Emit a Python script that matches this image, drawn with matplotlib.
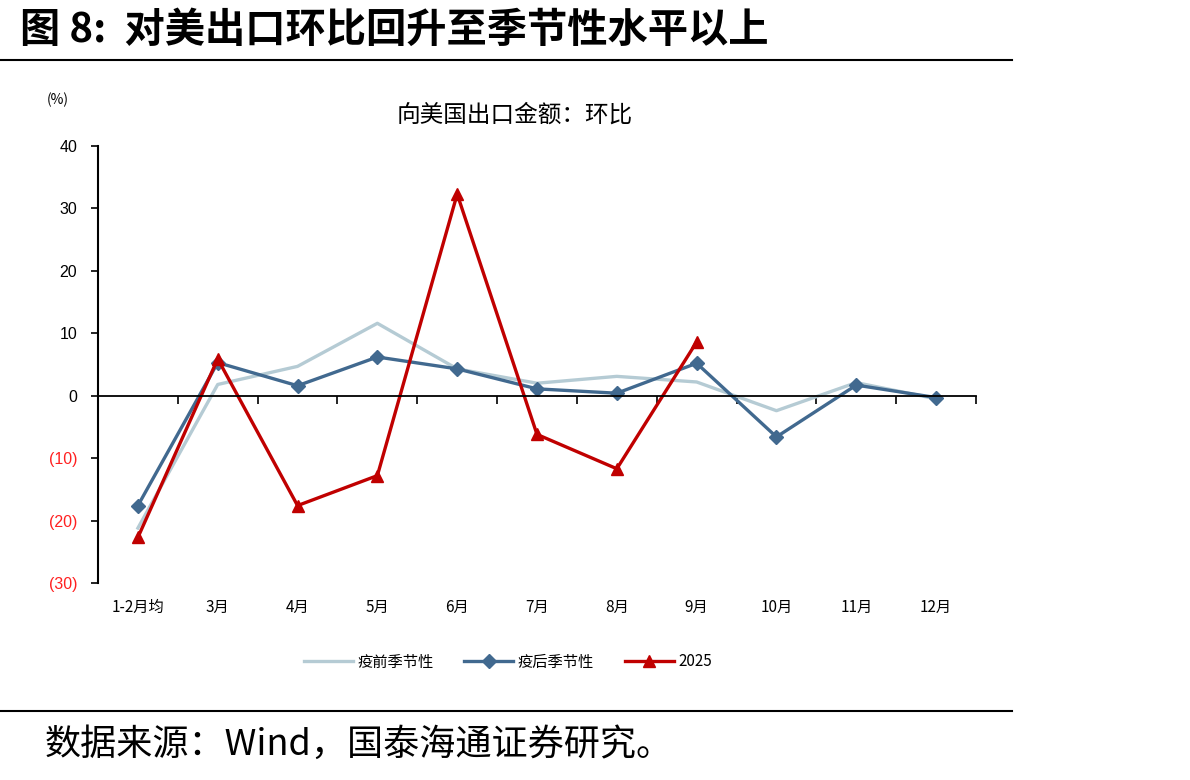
import numpy as np
import matplotlib
matplotlib.use("Agg")
import matplotlib.pyplot as plt
import matplotlib.transforms as mtrans

plt.rcParams['font.family'] = ['Noto Sans CJK SC', 'DejaVu Sans']

# Data
months = ['1-2月均', '3月', '4月', '5月', '6月', '7月', '8月', '9月', '10月', '11月', '12月']
pre_covid = [-21.2, 1.8, 4.7, 11.6, 4.3, 2.0, 3.1, 2.2, -2.4, 2.1, -0.5]
post_covid = [-17.6, 5.3, 1.6, 6.2, 4.3, 1.1, 0.4, 5.2, -6.6, 1.7, -0.3]
y2025 = [-22.7, 5.9, -17.6, -12.8, 32.3, -6.2, -11.7, 8.6]
yticks = [40, 30, 20, 10, 0, -10, -20, -30]

LIGHT = '#B5CBD4'
BLUE = '#41698F'
RED = '#C00000'

fig = plt.figure(figsize=(11.9, 7.8), dpi=100)
ax = fig.add_axes([98 / 1190, 1 - 583 / 780, 878 / 1190, 437 / 780])

x = np.arange(len(months))
ax.plot(x, pre_covid, color=LIGHT, lw=2.4, label='疫前季节性')
ax.plot(x, post_covid, color=BLUE, lw=2.4, marker='D', ms=7, label='疫后季节性')
ax.plot(x[:len(y2025)], y2025, color=RED, lw=2.4, marker='^', ms=8, label='2025')

ax.set_xlim(-0.5, len(months) - 0.5)
ax.set_ylim(-30, 40)

# y axis: negatives in red, in parentheses
ax.set_yticks(yticks)
ax.set_yticklabels([str(v) if v >= 0 else '({})'.format(-v) for v in yticks], fontsize=11.5,
                   family=['Liberation Sans', 'DejaVu Sans'])
for lab, v in zip(ax.get_yticklabels(), yticks):
    if v < 0:
        lab.set_color('#FF2020')
ax.tick_params(axis='y', direction='out', length=5, width=1.2, pad=10)

# x axis at zero with ticks between categories
for s in ['top', 'right']:
    ax.spines[s].set_visible(False)
ax.spines['left'].set_linewidth(1.5)
ax.spines['bottom'].set_position(('data', 0))
ax.spines['bottom'].set_linewidth(1.3)
ax.set_xticks(np.arange(len(months) + 1) - 0.5)
ax.set_xticklabels([])
ax.tick_params(axis='x', direction='out', length=6, width=1.2)

trans = mtrans.blended_transform_factory(ax.transData, ax.transAxes)
for i, m in enumerate(months):
    ax.text(i, -0.055, m, transform=trans, ha='center', va='center', fontsize=11)

fig.text(58 / 1190, 1 - 100 / 780, '(%)', fontsize=10, ha='center', va='center')
fig.text(515 / 1190, 1 - 115 / 780, '向美国出口金额：环比', fontsize=17, ha='center', va='center')

fig.legend(loc='center', bbox_to_anchor=(508 / 1190, 1 - 662 / 780), ncol=3, frameon=False,
           fontsize=11, handlelength=3.2, columnspacing=2.0, handletextpad=0.3)

# header / footer
fig.text(20 / 1190, 1 - 30 / 780, '图 8:  对美出口环比回升至季节性水平以上', fontsize=29,
         fontweight='bold', ha='left', va='center')
fig.add_artist(plt.Line2D([0, 1012 / 1190], [1 - 60 / 780] * 2, color='black', lw=1.5))
fig.add_artist(plt.Line2D([0, 1012 / 1190], [1 - 711 / 780] * 2, color='black', lw=1.5))
fig.text(45 / 1190, 1 - 745 / 780, '数据来源：Wind，国泰海通证券研究。', fontsize=26,
         ha='left', va='center')

fig.savefig('out.png', dpi=100)
